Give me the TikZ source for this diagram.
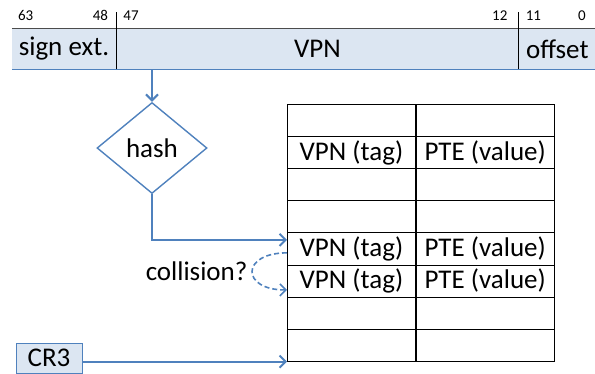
\documentclass[tikz,border=0pt]{standalone}
\usepackage{fontspec}
\setmainfont{Carlito}
\usetikzlibrary{shapes.geometric,arrows.meta,positioning}
\definecolor{linkblue}{HTML}{4F81BD}
\definecolor{fieldfill}{HTML}{DCE6F2}

\begin{document}
\begin{tikzpicture}[%
    x=1pt, y=-1pt,               % Pixel-like units, top-down
    >={Straight Barb[length=6pt,width=12pt]}, % Open arrow heads
    font=\fontsize{27}{29}\selectfont,
    ]
% -------------------------------------------------
% Styles for the address fields, the table and the links
\tikzset{
  field/.style={fill=fieldfill, inner sep=0pt, minimum height=40pt},
  bit/.style={font=\fontsize{15}{16}\selectfont, inner sep=0pt},
  cell/.style={draw, line width=0.8pt, inner sep=0pt, minimum height=32.1pt, anchor=north west},
  link/.style={->, draw=linkblue, line width=2pt},
  hashbox/.style={diamond, draw=linkblue, line width=1.4pt, inner sep=0pt,
                  minimum width=110pt, minimum height=91pt},
  reg/.style={draw=linkblue, fill=fieldfill, line width=0.9pt,
              minimum width=66pt, minimum height=30pt, inner sep=0pt}
}
\useasboundingbox (0,0) rectangle (595,373);
% -------------------------------------------------
% The virtual address
\node [field, minimum width=104pt] (signext) at (64,49) {sign ext.};
\node [field, minimum width=402pt, right=0pt of signext] (vpn) {VPN};
\node [field, minimum width=77pt, right=0pt of vpn] (offset) {offset};
\draw [gray!60!black, line width=0.8pt] (signext.north west) -- (offset.north east);
\draw [linkblue, line width=1.4pt] (signext.south west) -- (offset.south east);
\draw [line width=0.8pt] (signext.south east) -- ++(0,-57);
\draw [line width=0.8pt] (vpn.south east) -- ++(0,-57);

\node [bit, above right=8pt and 6pt of signext.north west] (b63) {63};
\node [bit, above left=8pt and 8pt of signext.north east] (b48) {48};
\node [bit, above right=8pt and 7pt of vpn.north west] (b47) {47};
\node [bit, above left=8pt and 11pt of vpn.north east] (b12) {12};
\node [bit, above right=8pt and 7pt of offset.north west] (b11) {11};
\node [bit, above left=8pt and 10pt of offset.north east] (b0) {0};

% -------------------------------------------------
% Hash function and the hashed page table
\node [hashbox] (hash) at (152,148) {hash};

\foreach \i/\t/\v in {1//, 2/VPN (tag)/PTE (value), 3//, 4//,
                      5/VPN (tag)/PTE (value), 6/VPN (tag)/PTE (value), 7//, 8//} {
  \node [cell, minimum width=128pt] (tag\i) at (287, {104+32.1*(\i-1)}) {\t};
  \node [cell, minimum width=138pt, right=0pt of tag\i] (val\i) {\v};
}

% -------------------------------------------------
% Page table base register
\node [reg] (cr3) at (49,358) {CR3};

% -------------------------------------------------
% Connectors
\draw [link] (hash.north |- vpn.south) -- (hash.north);
\draw [link] (hash.south) |- ([yshift=9pt]tag5.west);
\draw [link, line width=1.6pt, dash pattern=on 5pt off 3pt]
  ([yshift=-4pt]tag5.west) to [out=180, in=180, looseness=3.2]
  node [left=4pt, inner sep=0pt] (coll) {collision?} ([yshift=-9pt]tag6.west);
\draw [link] (cr3.east |- tag8.south) -- (tag8.south west);

% -------------------------------------------------
\end{tikzpicture}
\end{document}
